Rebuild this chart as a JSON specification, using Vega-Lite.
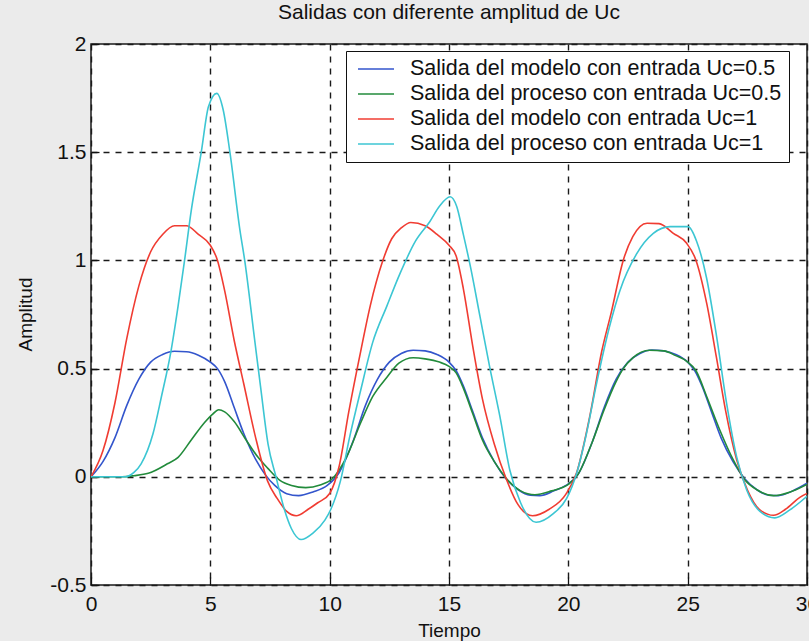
{
  "$schema": "https://vega.github.io/schema/vega-lite/v6.json",
  "width": 716,
  "height": 541,
  "autosize": {"type": "none"},
  "padding": {"left": 91, "top": 44, "right": 2, "bottom": 56},
  "background": "#ebebeb",
  "title": {"text": "Salidas con diferente amplitud de Uc", "fontSize": 21, "fontWeight": "normal", "font": "Liberation Sans", "color": "#111111", "offset": 10, "anchor": "middle"},
  "config": {
    "view": {"fill": "white", "stroke": "#1a1a1a", "strokeWidth": 1.5},
    "font": "Liberation Sans",
    "axis": {
      "domain": false,
      "ticks": true,
      "tickSize": -8,
      "tickColor": "#111111",
      "tickWidth": 1.3,
      "labelFlush": false,
      "grid": true,
      "gridColor": "#1a1a1a",
      "gridDash": [6, 6],
      "gridWidth": 1.4,
      "gridOpacity": 1,
      "labelFont": "Liberation Sans",
      "labelFontSize": 21,
      "labelColor": "#111111",
      "titleFont": "Liberation Sans",
      "titleFontWeight": "normal",
      "titleColor": "#111111"
    },
    "legend": {
      "orient": "none",
      "legendX": 255,
      "legendY": 7,
      "symbolType": "stroke",
      "symbolSize": 1296,
      "symbolStrokeWidth": 1.6,
      "labelFont": "Liberation Sans",
      "labelFontSize": 21.5,
      "labelColor": "#111111",
      "labelLimit": 600,
      "fillColor": "white",
      "strokeColor": "#111111",
      "padding": 7,
      "symbolOffset": 4,
      "labelOffset": 15,
      "clipHeight": 22,
      "rowPadding": 3
    }
  },
  "data": {"values": [
    {"t": 0, "v": 0, "s": "Salida del modelo con entrada Uc=0.5"},
    {"t": 0.5, "v": 0.07, "s": "Salida del modelo con entrada Uc=0.5"},
    {"t": 1.0, "v": 0.18, "s": "Salida del modelo con entrada Uc=0.5"},
    {"t": 1.5, "v": 0.33, "s": "Salida del modelo con entrada Uc=0.5"},
    {"t": 2.0, "v": 0.45, "s": "Salida del modelo con entrada Uc=0.5"},
    {"t": 2.5, "v": 0.53, "s": "Salida del modelo con entrada Uc=0.5"},
    {"t": 3.0, "v": 0.565, "s": "Salida del modelo con entrada Uc=0.5"},
    {"t": 3.5, "v": 0.58, "s": "Salida del modelo con entrada Uc=0.5"},
    {"t": 4.0, "v": 0.578, "s": "Salida del modelo con entrada Uc=0.5"},
    {"t": 4.5, "v": 0.562, "s": "Salida del modelo con entrada Uc=0.5"},
    {"t": 5.0, "v": 0.53, "s": "Salida del modelo con entrada Uc=0.5"},
    {"t": 5.3, "v": 0.5, "s": "Salida del modelo con entrada Uc=0.5"},
    {"t": 5.6, "v": 0.44, "s": "Salida del modelo con entrada Uc=0.5"},
    {"t": 6.0, "v": 0.32, "s": "Salida del modelo con entrada Uc=0.5"},
    {"t": 6.4, "v": 0.2, "s": "Salida del modelo con entrada Uc=0.5"},
    {"t": 6.9, "v": 0.08, "s": "Salida del modelo con entrada Uc=0.5"},
    {"t": 7.3, "v": 0.01, "s": "Salida del modelo con entrada Uc=0.5"},
    {"t": 7.7, "v": -0.04, "s": "Salida del modelo con entrada Uc=0.5"},
    {"t": 8.2, "v": -0.078, "s": "Salida del modelo con entrada Uc=0.5"},
    {"t": 8.7, "v": -0.087, "s": "Salida del modelo con entrada Uc=0.5"},
    {"t": 9.3, "v": -0.07, "s": "Salida del modelo con entrada Uc=0.5"},
    {"t": 9.9, "v": -0.04, "s": "Salida del modelo con entrada Uc=0.5"},
    {"t": 10.4, "v": 0.02, "s": "Salida del modelo con entrada Uc=0.5"},
    {"t": 11.0, "v": 0.17, "s": "Salida del modelo con entrada Uc=0.5"},
    {"t": 11.5, "v": 0.33, "s": "Salida del modelo con entrada Uc=0.5"},
    {"t": 12.0, "v": 0.45, "s": "Salida del modelo con entrada Uc=0.5"},
    {"t": 12.5, "v": 0.53, "s": "Salida del modelo con entrada Uc=0.5"},
    {"t": 13.0, "v": 0.57, "s": "Salida del modelo con entrada Uc=0.5"},
    {"t": 13.5, "v": 0.585, "s": "Salida del modelo con entrada Uc=0.5"},
    {"t": 14.0, "v": 0.582, "s": "Salida del modelo con entrada Uc=0.5"},
    {"t": 14.5, "v": 0.565, "s": "Salida del modelo con entrada Uc=0.5"},
    {"t": 15.0, "v": 0.53, "s": "Salida del modelo con entrada Uc=0.5"},
    {"t": 15.3, "v": 0.49, "s": "Salida del modelo con entrada Uc=0.5"},
    {"t": 15.6, "v": 0.42, "s": "Salida del modelo con entrada Uc=0.5"},
    {"t": 16.0, "v": 0.3, "s": "Salida del modelo con entrada Uc=0.5"},
    {"t": 16.4, "v": 0.18, "s": "Salida del modelo con entrada Uc=0.5"},
    {"t": 16.9, "v": 0.07, "s": "Salida del modelo con entrada Uc=0.5"},
    {"t": 17.4, "v": -0.01, "s": "Salida del modelo con entrada Uc=0.5"},
    {"t": 17.9, "v": -0.06, "s": "Salida del modelo con entrada Uc=0.5"},
    {"t": 18.4, "v": -0.085, "s": "Salida del modelo con entrada Uc=0.5"},
    {"t": 18.8, "v": -0.087, "s": "Salida del modelo con entrada Uc=0.5"},
    {"t": 19.4, "v": -0.065, "s": "Salida del modelo con entrada Uc=0.5"},
    {"t": 19.9, "v": -0.04, "s": "Salida del modelo con entrada Uc=0.5"},
    {"t": 20.4, "v": 0.01, "s": "Salida del modelo con entrada Uc=0.5"},
    {"t": 21.0, "v": 0.16, "s": "Salida del modelo con entrada Uc=0.5"},
    {"t": 21.5, "v": 0.32, "s": "Salida del modelo con entrada Uc=0.5"},
    {"t": 22.0, "v": 0.45, "s": "Salida del modelo con entrada Uc=0.5"},
    {"t": 22.5, "v": 0.53, "s": "Salida del modelo con entrada Uc=0.5"},
    {"t": 23.0, "v": 0.57, "s": "Salida del modelo con entrada Uc=0.5"},
    {"t": 23.5, "v": 0.586, "s": "Salida del modelo con entrada Uc=0.5"},
    {"t": 24.0, "v": 0.582, "s": "Salida del modelo con entrada Uc=0.5"},
    {"t": 24.5, "v": 0.565, "s": "Salida del modelo con entrada Uc=0.5"},
    {"t": 25.0, "v": 0.53, "s": "Salida del modelo con entrada Uc=0.5"},
    {"t": 25.3, "v": 0.49, "s": "Salida del modelo con entrada Uc=0.5"},
    {"t": 25.6, "v": 0.42, "s": "Salida del modelo con entrada Uc=0.5"},
    {"t": 26.0, "v": 0.3, "s": "Salida del modelo con entrada Uc=0.5"},
    {"t": 26.4, "v": 0.18, "s": "Salida del modelo con entrada Uc=0.5"},
    {"t": 26.9, "v": 0.07, "s": "Salida del modelo con entrada Uc=0.5"},
    {"t": 27.4, "v": -0.01, "s": "Salida del modelo con entrada Uc=0.5"},
    {"t": 27.9, "v": -0.06, "s": "Salida del modelo con entrada Uc=0.5"},
    {"t": 28.4, "v": -0.085, "s": "Salida del modelo con entrada Uc=0.5"},
    {"t": 28.8, "v": -0.087, "s": "Salida del modelo con entrada Uc=0.5"},
    {"t": 29.4, "v": -0.065, "s": "Salida del modelo con entrada Uc=0.5"},
    {"t": 30.0, "v": -0.03, "s": "Salida del modelo con entrada Uc=0.5"},

    {"t": 0, "v": 0, "s": "Salida del proceso con entrada Uc=0.5"},
    {"t": 1.3, "v": 0, "s": "Salida del proceso con entrada Uc=0.5"},
    {"t": 1.8, "v": 0.005, "s": "Salida del proceso con entrada Uc=0.5"},
    {"t": 2.4, "v": 0.016, "s": "Salida del proceso con entrada Uc=0.5"},
    {"t": 3.2, "v": 0.06, "s": "Salida del proceso con entrada Uc=0.5"},
    {"t": 3.65, "v": 0.09, "s": "Salida del proceso con entrada Uc=0.5"},
    {"t": 4.2, "v": 0.17, "s": "Salida del proceso con entrada Uc=0.5"},
    {"t": 4.75, "v": 0.25, "s": "Salida del proceso con entrada Uc=0.5"},
    {"t": 5.1, "v": 0.29, "s": "Salida del proceso con entrada Uc=0.5"},
    {"t": 5.35, "v": 0.31, "s": "Salida del proceso con entrada Uc=0.5"},
    {"t": 5.6, "v": 0.3, "s": "Salida del proceso con entrada Uc=0.5"},
    {"t": 6.0, "v": 0.255, "s": "Salida del proceso con entrada Uc=0.5"},
    {"t": 6.5, "v": 0.17, "s": "Salida del proceso con entrada Uc=0.5"},
    {"t": 7.0, "v": 0.09, "s": "Salida del proceso con entrada Uc=0.5"},
    {"t": 7.4, "v": 0.04, "s": "Salida del proceso con entrada Uc=0.5"},
    {"t": 7.9, "v": -0.015, "s": "Salida del proceso con entrada Uc=0.5"},
    {"t": 8.4, "v": -0.04, "s": "Salida del proceso con entrada Uc=0.5"},
    {"t": 9.0, "v": -0.05, "s": "Salida del proceso con entrada Uc=0.5"},
    {"t": 9.6, "v": -0.038, "s": "Salida del proceso con entrada Uc=0.5"},
    {"t": 10.1, "v": -0.01, "s": "Salida del proceso con entrada Uc=0.5"},
    {"t": 10.7, "v": 0.09, "s": "Salida del proceso con entrada Uc=0.5"},
    {"t": 11.3, "v": 0.25, "s": "Salida del proceso con entrada Uc=0.5"},
    {"t": 11.8, "v": 0.37, "s": "Salida del proceso con entrada Uc=0.5"},
    {"t": 12.4, "v": 0.46, "s": "Salida del proceso con entrada Uc=0.5"},
    {"t": 12.9, "v": 0.525, "s": "Salida del proceso con entrada Uc=0.5"},
    {"t": 13.5, "v": 0.55, "s": "Salida del proceso con entrada Uc=0.5"},
    {"t": 14.0, "v": 0.545, "s": "Salida del proceso con entrada Uc=0.5"},
    {"t": 14.6, "v": 0.53, "s": "Salida del proceso con entrada Uc=0.5"},
    {"t": 15.0, "v": 0.51, "s": "Salida del proceso con entrada Uc=0.5"},
    {"t": 15.3, "v": 0.48, "s": "Salida del proceso con entrada Uc=0.5"},
    {"t": 15.6, "v": 0.41, "s": "Salida del proceso con entrada Uc=0.5"},
    {"t": 16.0, "v": 0.29, "s": "Salida del proceso con entrada Uc=0.5"},
    {"t": 16.4, "v": 0.17, "s": "Salida del proceso con entrada Uc=0.5"},
    {"t": 16.9, "v": 0.07, "s": "Salida del proceso con entrada Uc=0.5"},
    {"t": 17.5, "v": -0.02, "s": "Salida del proceso con entrada Uc=0.5"},
    {"t": 18.0, "v": -0.065, "s": "Salida del proceso con entrada Uc=0.5"},
    {"t": 18.6, "v": -0.083, "s": "Salida del proceso con entrada Uc=0.5"},
    {"t": 19.3, "v": -0.065, "s": "Salida del proceso con entrada Uc=0.5"},
    {"t": 20.0, "v": -0.035, "s": "Salida del proceso con entrada Uc=0.5"},
    {"t": 20.4, "v": 0.01, "s": "Salida del proceso con entrada Uc=0.5"},
    {"t": 21.0, "v": 0.16, "s": "Salida del proceso con entrada Uc=0.5"},
    {"t": 21.5, "v": 0.31, "s": "Salida del proceso con entrada Uc=0.5"},
    {"t": 22.0, "v": 0.44, "s": "Salida del proceso con entrada Uc=0.5"},
    {"t": 22.3, "v": 0.5, "s": "Salida del proceso con entrada Uc=0.5"},
    {"t": 22.7, "v": 0.55, "s": "Salida del proceso con entrada Uc=0.5"},
    {"t": 23.4, "v": 0.585, "s": "Salida del proceso con entrada Uc=0.5"},
    {"t": 24.0, "v": 0.582, "s": "Salida del proceso con entrada Uc=0.5"},
    {"t": 24.5, "v": 0.56, "s": "Salida del proceso con entrada Uc=0.5"},
    {"t": 24.95, "v": 0.535, "s": "Salida del proceso con entrada Uc=0.5"},
    {"t": 25.35, "v": 0.49, "s": "Salida del proceso con entrada Uc=0.5"},
    {"t": 25.8, "v": 0.37, "s": "Salida del proceso con entrada Uc=0.5"},
    {"t": 26.35, "v": 0.215, "s": "Salida del proceso con entrada Uc=0.5"},
    {"t": 26.9, "v": 0.08, "s": "Salida del proceso con entrada Uc=0.5"},
    {"t": 27.4, "v": -0.015, "s": "Salida del proceso con entrada Uc=0.5"},
    {"t": 27.9, "v": -0.06, "s": "Salida del proceso con entrada Uc=0.5"},
    {"t": 28.6, "v": -0.087, "s": "Salida del proceso con entrada Uc=0.5"},
    {"t": 29.3, "v": -0.07, "s": "Salida del proceso con entrada Uc=0.5"},
    {"t": 30.0, "v": -0.035, "s": "Salida del proceso con entrada Uc=0.5"},

    {"t": 0, "v": 0, "s": "Salida del modelo con entrada Uc=1"},
    {"t": 0.5, "v": 0.12, "s": "Salida del modelo con entrada Uc=1"},
    {"t": 1.0, "v": 0.34, "s": "Salida del modelo con entrada Uc=1"},
    {"t": 1.5, "v": 0.64, "s": "Salida del modelo con entrada Uc=1"},
    {"t": 2.0, "v": 0.88, "s": "Salida del modelo con entrada Uc=1"},
    {"t": 2.5, "v": 1.04, "s": "Salida del modelo con entrada Uc=1"},
    {"t": 3.0, "v": 1.12, "s": "Salida del modelo con entrada Uc=1"},
    {"t": 3.5, "v": 1.16, "s": "Salida del modelo con entrada Uc=1"},
    {"t": 4.0, "v": 1.16, "s": "Salida del modelo con entrada Uc=1"},
    {"t": 4.5, "v": 1.12, "s": "Salida del modelo con entrada Uc=1"},
    {"t": 5.0, "v": 1.07, "s": "Salida del modelo con entrada Uc=1"},
    {"t": 5.3, "v": 1.0, "s": "Salida del modelo con entrada Uc=1"},
    {"t": 5.6, "v": 0.86, "s": "Salida del modelo con entrada Uc=1"},
    {"t": 6.0, "v": 0.63, "s": "Salida del modelo con entrada Uc=1"},
    {"t": 6.4, "v": 0.43, "s": "Salida del modelo con entrada Uc=1"},
    {"t": 6.9, "v": 0.18, "s": "Salida del modelo con entrada Uc=1"},
    {"t": 7.4, "v": -0.02, "s": "Salida del modelo con entrada Uc=1"},
    {"t": 7.8, "v": -0.1, "s": "Salida del modelo con entrada Uc=1"},
    {"t": 8.2, "v": -0.16, "s": "Salida del modelo con entrada Uc=1"},
    {"t": 8.6, "v": -0.18, "s": "Salida del modelo con entrada Uc=1"},
    {"t": 9.1, "v": -0.15, "s": "Salida del modelo con entrada Uc=1"},
    {"t": 9.5, "v": -0.12, "s": "Salida del modelo con entrada Uc=1"},
    {"t": 10.0, "v": -0.077, "s": "Salida del modelo con entrada Uc=1"},
    {"t": 10.4, "v": 0.05, "s": "Salida del modelo con entrada Uc=1"},
    {"t": 10.8, "v": 0.3, "s": "Salida del modelo con entrada Uc=1"},
    {"t": 11.3, "v": 0.58, "s": "Salida del modelo con entrada Uc=1"},
    {"t": 11.7, "v": 0.79, "s": "Salida del modelo con entrada Uc=1"},
    {"t": 12.2, "v": 0.99, "s": "Salida del modelo con entrada Uc=1"},
    {"t": 12.6, "v": 1.1, "s": "Salida del modelo con entrada Uc=1"},
    {"t": 13.0, "v": 1.15, "s": "Salida del modelo con entrada Uc=1"},
    {"t": 13.4, "v": 1.175, "s": "Salida del modelo con entrada Uc=1"},
    {"t": 14.0, "v": 1.16, "s": "Salida del modelo con entrada Uc=1"},
    {"t": 14.5, "v": 1.12, "s": "Salida del modelo con entrada Uc=1"},
    {"t": 15.0, "v": 1.07, "s": "Salida del modelo con entrada Uc=1"},
    {"t": 15.3, "v": 1.02, "s": "Salida del modelo con entrada Uc=1"},
    {"t": 15.6, "v": 0.87, "s": "Salida del modelo con entrada Uc=1"},
    {"t": 16.0, "v": 0.6, "s": "Salida del modelo con entrada Uc=1"},
    {"t": 16.4, "v": 0.36, "s": "Salida del modelo con entrada Uc=1"},
    {"t": 16.9, "v": 0.15, "s": "Salida del modelo con entrada Uc=1"},
    {"t": 17.4, "v": -0.01, "s": "Salida del modelo con entrada Uc=1"},
    {"t": 17.9, "v": -0.13, "s": "Salida del modelo con entrada Uc=1"},
    {"t": 18.5, "v": -0.18, "s": "Salida del modelo con entrada Uc=1"},
    {"t": 19.2, "v": -0.15, "s": "Salida del modelo con entrada Uc=1"},
    {"t": 19.9, "v": -0.08, "s": "Salida del modelo con entrada Uc=1"},
    {"t": 20.35, "v": 0.02, "s": "Salida del modelo con entrada Uc=1"},
    {"t": 20.9, "v": 0.28, "s": "Salida del modelo con entrada Uc=1"},
    {"t": 21.4, "v": 0.58, "s": "Salida del modelo con entrada Uc=1"},
    {"t": 21.8, "v": 0.76, "s": "Salida del modelo con entrada Uc=1"},
    {"t": 22.3, "v": 1.0, "s": "Salida del modelo con entrada Uc=1"},
    {"t": 22.7, "v": 1.11, "s": "Salida del modelo con entrada Uc=1"},
    {"t": 23.3, "v": 1.172, "s": "Salida del modelo con entrada Uc=1"},
    {"t": 23.8, "v": 1.17, "s": "Salida del modelo con entrada Uc=1"},
    {"t": 24.4, "v": 1.125, "s": "Salida del modelo con entrada Uc=1"},
    {"t": 24.95, "v": 1.08, "s": "Salida del modelo con entrada Uc=1"},
    {"t": 25.35, "v": 1.0, "s": "Salida del modelo con entrada Uc=1"},
    {"t": 25.8, "v": 0.8, "s": "Salida del modelo con entrada Uc=1"},
    {"t": 26.2, "v": 0.555, "s": "Salida del modelo con entrada Uc=1"},
    {"t": 26.6, "v": 0.3, "s": "Salida del modelo con entrada Uc=1"},
    {"t": 27.05, "v": 0.08, "s": "Salida del modelo con entrada Uc=1"},
    {"t": 27.5, "v": -0.06, "s": "Salida del modelo con entrada Uc=1"},
    {"t": 28.0, "v": -0.15, "s": "Salida del modelo con entrada Uc=1"},
    {"t": 28.6, "v": -0.178, "s": "Salida del modelo con entrada Uc=1"},
    {"t": 29.1, "v": -0.15, "s": "Salida del modelo con entrada Uc=1"},
    {"t": 29.7, "v": -0.095, "s": "Salida del modelo con entrada Uc=1"},
    {"t": 30.0, "v": -0.077, "s": "Salida del modelo con entrada Uc=1"},

    {"t": 0, "v": 0, "s": "Salida del proceso con entrada Uc=1"},
    {"t": 1.45, "v": 0, "s": "Salida del proceso con entrada Uc=1"},
    {"t": 1.8, "v": 0.02, "s": "Salida del proceso con entrada Uc=1"},
    {"t": 2.1, "v": 0.06, "s": "Salida del proceso con entrada Uc=1"},
    {"t": 2.6, "v": 0.2, "s": "Salida del proceso con entrada Uc=1"},
    {"t": 2.95, "v": 0.37, "s": "Salida del proceso con entrada Uc=1"},
    {"t": 3.35, "v": 0.58, "s": "Salida del proceso con entrada Uc=1"},
    {"t": 3.65, "v": 0.79, "s": "Salida del proceso con entrada Uc=1"},
    {"t": 3.92, "v": 1.0, "s": "Salida del proceso con entrada Uc=1"},
    {"t": 4.2, "v": 1.23, "s": "Salida del proceso con entrada Uc=1"},
    {"t": 4.62, "v": 1.5, "s": "Salida del proceso con entrada Uc=1"},
    {"t": 4.92, "v": 1.71, "s": "Salida del proceso con entrada Uc=1"},
    {"t": 5.27, "v": 1.772, "s": "Salida del proceso con entrada Uc=1"},
    {"t": 5.54, "v": 1.695, "s": "Salida del proceso con entrada Uc=1"},
    {"t": 5.82, "v": 1.5, "s": "Salida del proceso con entrada Uc=1"},
    {"t": 6.24, "v": 1.14, "s": "Salida del proceso con entrada Uc=1"},
    {"t": 6.44, "v": 1.0, "s": "Salida del proceso con entrada Uc=1"},
    {"t": 6.86, "v": 0.63, "s": "Salida del proceso con entrada Uc=1"},
    {"t": 7.1, "v": 0.42, "s": "Salida del proceso con entrada Uc=1"},
    {"t": 7.42, "v": 0.15, "s": "Salida del proceso con entrada Uc=1"},
    {"t": 7.75, "v": 0.0, "s": "Salida del proceso con entrada Uc=1"},
    {"t": 8.1, "v": -0.15, "s": "Salida del proceso con entrada Uc=1"},
    {"t": 8.4, "v": -0.24, "s": "Salida del proceso con entrada Uc=1"},
    {"t": 8.8, "v": -0.29, "s": "Salida del proceso con entrada Uc=1"},
    {"t": 9.3, "v": -0.26, "s": "Salida del proceso con entrada Uc=1"},
    {"t": 9.8, "v": -0.2, "s": "Salida del proceso con entrada Uc=1"},
    {"t": 10.05, "v": -0.15, "s": "Salida del proceso con entrada Uc=1"},
    {"t": 10.45, "v": -0.02, "s": "Salida del proceso con entrada Uc=1"},
    {"t": 10.85, "v": 0.19, "s": "Salida del proceso con entrada Uc=1"},
    {"t": 11.3, "v": 0.4, "s": "Salida del proceso con entrada Uc=1"},
    {"t": 11.8, "v": 0.62, "s": "Salida del proceso con entrada Uc=1"},
    {"t": 12.4, "v": 0.79, "s": "Salida del proceso con entrada Uc=1"},
    {"t": 12.95, "v": 0.94, "s": "Salida del proceso con entrada Uc=1"},
    {"t": 13.6, "v": 1.09, "s": "Salida del proceso con entrada Uc=1"},
    {"t": 14.2, "v": 1.18, "s": "Salida del proceso con entrada Uc=1"},
    {"t": 14.6, "v": 1.25, "s": "Salida del proceso con entrada Uc=1"},
    {"t": 15.05, "v": 1.294, "s": "Salida del proceso con entrada Uc=1"},
    {"t": 15.32, "v": 1.25, "s": "Salida del proceso con entrada Uc=1"},
    {"t": 15.6, "v": 1.12, "s": "Salida del proceso con entrada Uc=1"},
    {"t": 15.9, "v": 0.97, "s": "Salida del proceso con entrada Uc=1"},
    {"t": 16.3, "v": 0.74, "s": "Salida del proceso con entrada Uc=1"},
    {"t": 16.7, "v": 0.51, "s": "Salida del proceso con entrada Uc=1"},
    {"t": 17.13, "v": 0.28, "s": "Salida del proceso con entrada Uc=1"},
    {"t": 17.55, "v": 0.03, "s": "Salida del proceso con entrada Uc=1"},
    {"t": 18.0, "v": -0.12, "s": "Salida del proceso con entrada Uc=1"},
    {"t": 18.65, "v": -0.21, "s": "Salida del proceso con entrada Uc=1"},
    {"t": 19.37, "v": -0.17, "s": "Salida del proceso con entrada Uc=1"},
    {"t": 19.93, "v": -0.1, "s": "Salida del proceso con entrada Uc=1"},
    {"t": 20.35, "v": 0.016, "s": "Salida del proceso con entrada Uc=1"},
    {"t": 20.76, "v": 0.2, "s": "Salida del proceso con entrada Uc=1"},
    {"t": 21.18, "v": 0.43, "s": "Salida del proceso con entrada Uc=1"},
    {"t": 21.74, "v": 0.7, "s": "Salida del proceso con entrada Uc=1"},
    {"t": 22.16, "v": 0.86, "s": "Salida del proceso con entrada Uc=1"},
    {"t": 22.86, "v": 1.03, "s": "Salida del proceso con entrada Uc=1"},
    {"t": 23.56, "v": 1.125, "s": "Salida del proceso con entrada Uc=1"},
    {"t": 24.26, "v": 1.156, "s": "Salida del proceso con entrada Uc=1"},
    {"t": 25.02, "v": 1.156, "s": "Salida del proceso con entrada Uc=1"},
    {"t": 25.37, "v": 1.09, "s": "Salida del proceso con entrada Uc=1"},
    {"t": 25.79, "v": 0.92, "s": "Salida del proceso con entrada Uc=1"},
    {"t": 26.21, "v": 0.65, "s": "Salida del proceso con entrada Uc=1"},
    {"t": 26.63, "v": 0.34, "s": "Salida del proceso con entrada Uc=1"},
    {"t": 27.05, "v": 0.093, "s": "Salida del proceso con entrada Uc=1"},
    {"t": 27.47, "v": -0.06, "s": "Salida del proceso con entrada Uc=1"},
    {"t": 28.03, "v": -0.16, "s": "Salida del proceso con entrada Uc=1"},
    {"t": 28.65, "v": -0.19, "s": "Salida del proceso con entrada Uc=1"},
    {"t": 29.28, "v": -0.153, "s": "Salida del proceso con entrada Uc=1"},
    {"t": 30.0, "v": -0.09, "s": "Salida del proceso con entrada Uc=1"}
  ]},
  "mark": {"type": "line", "strokeWidth": 1.6, "clip": true, "interpolate": "monotone"},
  "encoding": {
    "x": {
      "field": "t", "type": "quantitative",
      "scale": {"domain": [0, 30], "nice": false},
      "axis": {"values": [0, 5, 10, 15, 20, 25, 30], "title": "Tiempo", "titleFontSize": 19, "labelPadding": 16, "labelExpr": "'' + datum.value", "titleX": 358, "titleY": 45, "titleBaseline": "middle", "titleAlign": "center"}
    },
    "y": {
      "field": "v", "type": "quantitative",
      "scale": {"domain": [-0.5, 2], "nice": false, "zero": false},
      "axis": {"values": [-0.5, 0, 0.5, 1, 1.5, 2], "title": "Amplitud", "titleFontSize": 19, "labelPadding": 13, "labelExpr": "'' + datum.value", "titleX": -66, "titleY": 270, "titleAngle": 270, "titleBaseline": "middle", "titleAlign": "center"}
    },
    "color": {
      "field": "s", "type": "nominal",
      "scale": {
        "domain": ["Salida del modelo con entrada Uc=0.5", "Salida del proceso con entrada Uc=0.5", "Salida del modelo con entrada Uc=1", "Salida del proceso con entrada Uc=1"],
        "range": ["#3355cc", "#228b3b", "#f03c32", "#3cc6d3"]
      },
      "legend": {"title": null}
    }
  }
}
